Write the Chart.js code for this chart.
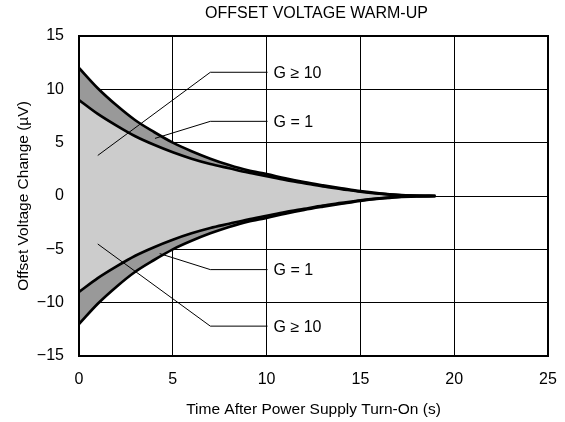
<!DOCTYPE html>
<html>
<head>
<meta charset="utf-8">
<script src="https://cdn.jsdelivr.net/npm/chart.js@4.4.1/dist/chart.umd.min.js"></script>
<style>
  html, body { margin: 0; padding: 0; background: #fff; }
  #wrap { width: 565px; height: 422px; }
</style>
</head>
<body>
<div id="wrap"><canvas id="warmup" width="565" height="422"></canvas></div>
<script>
// --- DONNEES ---
const timeSec = [0, 1, 2, 3, 4, 5, 6, 7, 8, 9, 10, 11, 12, 13, 14, 15, 16, 17, 18, 19];
const gain10Upper = [12.0, 10.1, 8.5, 7.1, 6.0, 5.0, 4.2, 3.5, 2.9, 2.4, 2.05, 1.65, 1.3, 1.0, 0.72, 0.45, 0.25, 0.1, 0.03, 0];
const gain1Upper = [9.0, 7.7, 6.6, 5.6, 4.8, 4.1, 3.5, 3.0, 2.6, 2.2, 1.85, 1.5, 1.2, 0.9, 0.65, 0.4, 0.22, 0.08, 0.02, 0];
const gain1Lower = [-9.0, -7.7, -6.6, -5.6, -4.8, -4.1, -3.5, -3.0, -2.6, -2.2, -1.85, -1.5, -1.2, -0.9, -0.65, -0.4, -0.22, -0.08, -0.02, 0];
const gain10Lower = [-12.0, -10.1, -8.5, -7.1, -6.0, -5.0, -4.2, -3.5, -2.9, -2.4, -2.05, -1.65, -1.3, -1.0, -0.72, -0.45, -0.25, -0.1, -0.03, 0];

const xTicks = [0, 5, 10, 15, 20, 25];
const yTicks = [-15, -10, -5, 0, 5, 10, 15];

// leaders (unites du graphe) : pointe -> coude -> fin
const leaderNames = ['G \u2265 10', 'G = 1', 'G = 1', 'G \u2265 10'];
const leaderX = [[1.0, 7.0, 10.05], [4.05, 7.0, 10.05], [4.3, 7.0, 10.05], [1.0, 7.0, 10.05]];
const leaderY = [[3.8, 11.6, 11.6], [5.4, 7.0, 7.0], [-5.4, -6.9, -6.9], [-4.5, -12.2, -12.2]];

const FONT = "'Liberation Sans', Arial, sans-serif";

const toPts = (ys) => timeSec.map((t, i) => ({ x: t, y: ys[i] }));

function curve(label, ys, fill, bg) {
    return {
        label: label,
        data: toPts(ys),
        borderColor: '#000',
        borderWidth: 2.7,
        backgroundColor: bg,
        fill: fill,
        pointRadius: 0,
        order: 1,
        cubicInterpolationMode: 'monotone'
    };
}

// les leaders passent par-dessus les zones grises
const leaderSets = leaderNames.map((name, i) => ({
    label: name,
    data: leaderX[i].map((x, j) => ({ x: x, y: leaderY[i][j] })),
    borderColor: '#000',
    borderWidth: 1,
    fill: false,
    pointRadius: 0,
    order: 0,
    tension: 0
}));

// --- PLUGINS ---
const frameAndText = {
    id: 'frameAndText',
    afterDraw(chart) {
        const { ctx, chartArea: a, scales } = chart;
        ctx.save();
        // cadre epais
        ctx.strokeStyle = '#000';
        ctx.lineWidth = 2;
        ctx.strokeRect(a.left, a.top, a.right - a.left, a.bottom - a.top);
        // titre
        ctx.fillStyle = '#000';
        ctx.font = '16px ' + FONT;
        ctx.textAlign = 'center';
        ctx.textBaseline = 'middle';
        ctx.fillText('OFFSET VOLTAGE WARM-UP', (a.left + a.right) / 2 + 3, 14);
        // etiquettes des leaders
        ctx.textAlign = 'left';
        leaderNames.forEach((name, i) => {
            const n = leaderX[i].length - 1;
            const px = scales.x.getPixelForValue(leaderX[i][n]) + 6;
            const py = scales.y.getPixelForValue(leaderY[i][n]);
            ctx.fillText(name, px, py + 1);
        });
        ctx.restore();
    }
};

new Chart(document.getElementById('warmup'), {
    type: 'line',
    data: {
        datasets: [
            curve('G10 up', gain10Upper, 1, '#999999'),
            curve('G1 up', gain1Upper, 'origin', '#cccccc'),
            curve('G1 down', gain1Lower, 'origin', '#cccccc'),
            curve('G10 down', gain10Lower, 2, '#999999'),
            ...leaderSets
        ]
    },
    options: {
        responsive: false,
        animation: false,
        layout: { padding: { top: 36, right: 17, left: 10, bottom: 0 } },
        plugins: {
            legend: { display: false },
            tooltip: { enabled: false },
            filler: { drawTime: 'beforeDatasetsDraw' }
        },
        scales: {
            x: {
                type: 'linear',
                min: 0, max: 25,
                afterBuildTicks: (s) => { s.ticks = xTicks.map(v => ({ value: v })); },
                afterFit: (s) => { s.height = 66; s.paddingRight = 0; s.paddingLeft = 0; },
                grid: { color: '#000', lineWidth: 1, drawTicks: false },
                border: { display: false },
                ticks: { color: '#000', font: { family: FONT, size: 16 }, padding: 14 },
                title: {
                    display: true,
                    text: 'Time After Power Supply Turn-On (s)',
                    color: '#000',
                    font: { family: FONT, size: 15.5 },
                    padding: { top: 6, bottom: 3 }
                }
            },
            y: {
                min: -15, max: 15,
                afterBuildTicks: (s) => { s.ticks = yTicks.map(v => ({ value: v })); },
                afterFit: (s) => { s.width = 69; s.paddingTop = 0; s.paddingBottom = 0; },
                grid: { color: '#000', lineWidth: 1, drawTicks: false },
                border: { display: false },
                ticks: {
                    color: '#000',
                    font: { family: FONT, size: 16 },
                    padding: 15,
                    callback: (v) => (v < 0 ? '\u2212' + Math.abs(v) : String(v))
                },
                title: {
                    display: true,
                    text: 'Offset Voltage Change (\u00b5V)',
                    color: '#000',
                    font: { family: FONT, size: 15.5 },
                    padding: { bottom: 2 }
                }
            }
        }
    },
    plugins: [frameAndText]
});
</script>
</body>
</html>
